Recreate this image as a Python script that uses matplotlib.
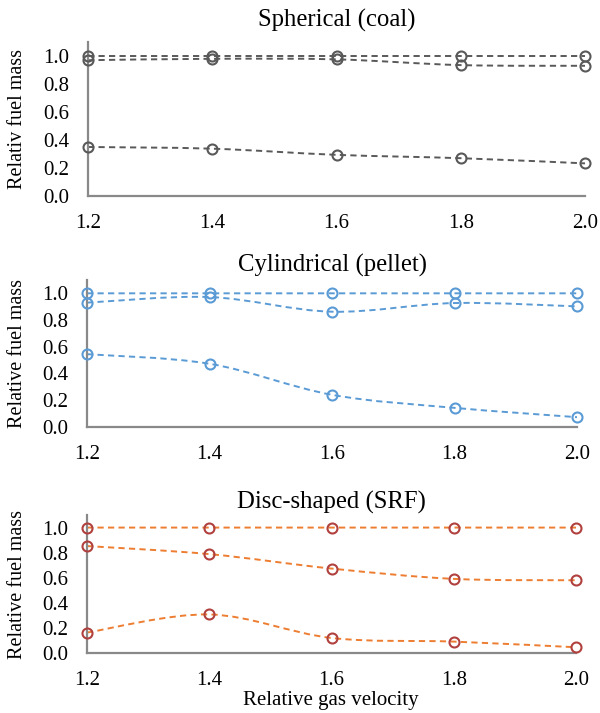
import matplotlib
matplotlib.use("Agg")
import matplotlib.pyplot as plt
from matplotlib.path import Path
from matplotlib.patches import PathPatch

plt.rcParams["font.family"] = ["Liberation Serif", "DejaVu Serif"]

# ---------- data ----------
velocity = [1.2, 1.4, 1.6, 1.8, 2.0]
x_ticks = [1.2, 1.4, 1.6, 1.8, 2.0]
y_ticks = [0.0, 0.2, 0.4, 0.6, 0.8, 1.0]

coal_top = [1.00, 1.00, 1.00, 1.00, 1.00]
coal_mid = [0.97, 0.98, 0.976, 0.935, 0.93]
coal_low = [0.35, 0.338, 0.294, 0.27, 0.233]

pellet_top = [1.00, 1.00, 1.00, 1.00, 1.00]
pellet_mid = [0.93, 0.972, 0.862, 0.927, 0.902]
pellet_low = [0.543, 0.471, 0.238, 0.14, 0.07]

srf_top = [1.00, 1.00, 1.00, 1.00, 1.00]
srf_mid = [0.853, 0.789, 0.674, 0.592, 0.581]
srf_low = [0.165, 0.309, 0.122, 0.093, 0.048]

titles = ["Spherical (coal)", "Cylindrical (pellet)", "Disc-shaped (SRF)"]
ylabels = ["Relativ fuel mass", "Relative fuel mass", "Relative fuel mass"]
xlabel = "Relative gas velocity"


def smooth_path(xs, ys):
    """Excel-like smoothed line: Catmull-Rom turned into cubic Bezier segments."""
    pts = list(zip(xs, ys))
    n = len(pts)
    verts = [pts[0]]
    codes = [Path.MOVETO]
    for i in range(n - 1):
        p0 = pts[i - 1] if i > 0 else pts[i]
        p1 = pts[i]
        p2 = pts[i + 1]
        p3 = pts[i + 2] if i + 2 < n else pts[i + 1]
        c1 = (p1[0] + (p2[0] - p0[0]) / 6, p1[1] + (p2[1] - p0[1]) / 6)
        c2 = (p2[0] - (p3[0] - p1[0]) / 6, p2[1] - (p3[1] - p1[1]) / 6)
        verts += [c1, c2, p2]
        codes += [Path.CURVE4] * 3
    return Path(verts, codes)


W, H = 600, 713
fig = plt.figure(figsize=(W / 100, H / 100), dpi=100)

# axes boxes in pixels: left, right, top, bottom
boxes = [
    (88, 585, 42, 196),
    (87, 577, 280, 426.5),
    (87, 576, 515, 653.3),
]
title_y = [20, 265, 502]

panels = [
    (coal_top, coal_mid, coal_low),
    (pellet_top, pellet_mid, pellet_low),
    (srf_top, srf_mid, srf_low),
]
line_colors = ["#595959", "#5b9bd5", "#ed7d31"]
marker_colors = ["#595959", "#5b9bd5", "#b0413e"]
spine_color = "#898989"

for k, (l, r, t, b) in enumerate(boxes):
    ax = fig.add_axes([l / W, 1 - b / H, (r - l) / W, (b - t) / H])
    for series in panels[k]:
        ax.add_patch(PathPatch(smooth_path(velocity, series), fill=False,
                               edgecolor=line_colors[k], linewidth=1.4,
                               linestyle=(0, (3.2, 2.2)), zorder=2))
        ax.plot(velocity, series, "o", markersize=7.2, markerfacecolor="none",
                markeredgecolor=marker_colors[k], markeredgewidth=1.5,
                zorder=3, clip_on=False)

    ax.set_xlim(1.2, 2.0)
    ax.set_ylim(0, 1.1)
    ax.set_xticks(x_ticks)
    ax.set_xticklabels([f"{v:.1f}" for v in x_ticks])
    ax.set_yticks(y_ticks)
    ax.set_yticklabels([f"{v:.1f}" for v in y_ticks])
    ax.tick_params(length=0, labelsize=15, colors="#000000")
    ax.tick_params(axis="x", pad=13)
    ax.tick_params(axis="y", pad=13.5)
    for side in ["top", "right"]:
        ax.spines[side].set_visible(False)
    for side in ["left", "bottom"]:
        ax.spines[side].set_color(spine_color)
        ax.spines[side].set_linewidth(1.6)

    fig.text((l + r) / 2 / W, 1 - title_y[k] / H, titles[k],
             ha="center", va="center", fontsize=17.8)
    fig.text(18 / W, 1 - (t + b) / 2 / H, ylabels[k], rotation=90,
             ha="center", va="center", fontsize=14.5)

fig.text(331 / W, 1 - 701 / H, xlabel, ha="center", va="center", fontsize=15)

fig.savefig("out.png", dpi=100, facecolor="white")
